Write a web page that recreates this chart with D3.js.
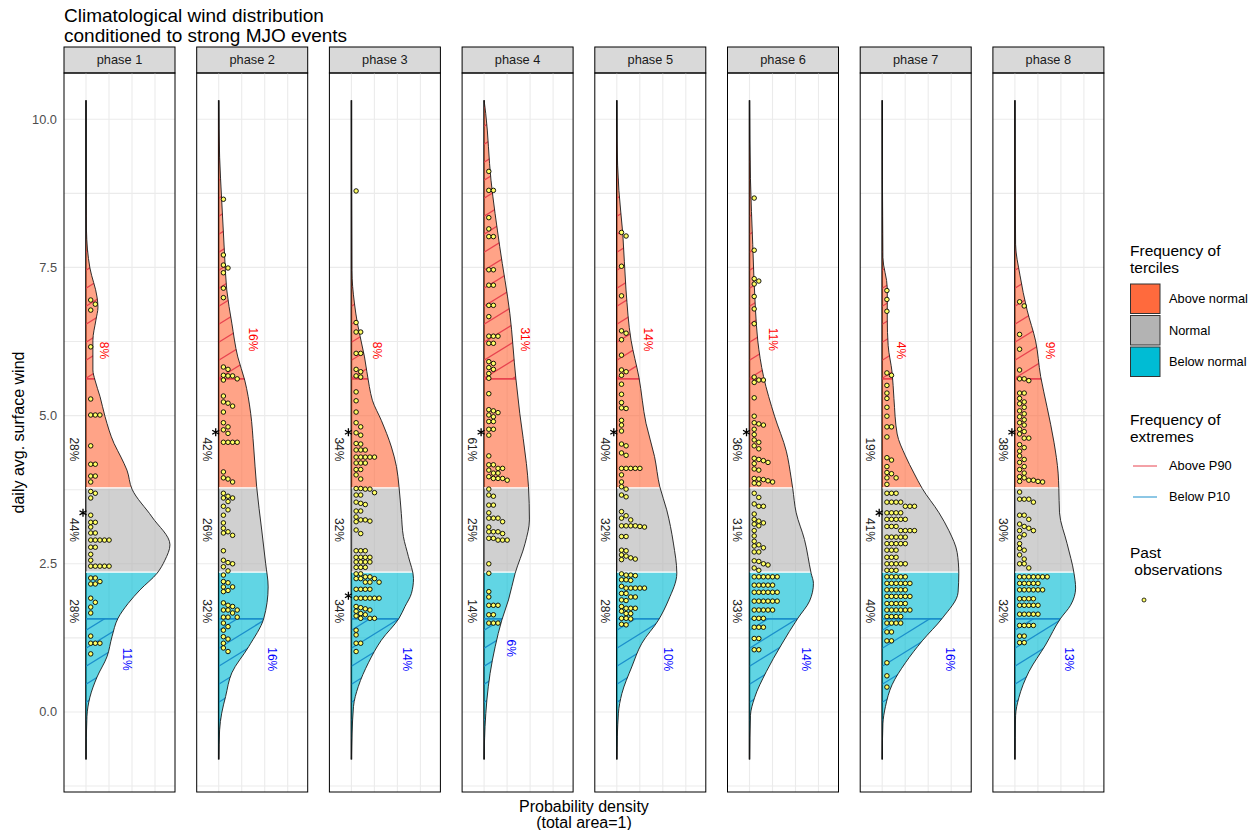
<!DOCTYPE html>
<html><head><meta charset="utf-8">
<script src="https://cdn.jsdelivr.net/npm/d3@7"></script>
<style>body{margin:0;background:#fff} svg{font-family:"Liberation Sans", Arial, sans-serif}</style>
</head><body><svg id="c" width="1258" height="830"></svg>
<script>
// ---------------- data ----------------
const phases = ["phase 1","phase 2","phase 3","phase 4","phase 5","phase 6","phase 7","phase 8"];
const yTicks = [0, 2.5, 5, 7.5, 10];
const yTickLabels = ["0.0","2.5","5.0","7.5","10.0"];
const tercileBreaks = [2.36, 3.78];      // below/normal, normal/above
const extremeBreaks = [1.57, 5.62];      // P10, P90
const tercileLabelAt = [4.43, 3.07, 1.70];
const windRange = [-0.8, 10.32];
const pctAbove  = ["28%","42%","34%","61%","40%","36%","19%","38%"];
const pctNormal = ["44%","26%","32%","25%","32%","31%","41%","30%"];
const pctBelow  = ["28%","32%","34%","14%","28%","33%","40%","32%"];
const pctP90 = ["8%","16%","8%","31%","14%","11%","4%","9%"];
const pctP10 = ["11%","16%","14%","6%","10%","14%","16%","13%"];
const stars = [[3.36],[4.72],[4.72,1.96],[4.72],[4.72],[4.72],[3.36],[4.72]];

// density curves [wind, density]
const dens1 = [[10.32,0],[9.0,0],[8.13,0.002],[7.49,0.017],[7.0,0.048],[6.83,0.052],[6.61,0.043],[6.27,0.030],[5.77,0.030],[5.6,0.039],[5.32,0.061],[4.98,0.083],[4.53,0.122],[4.3,0.152],[4.08,0.178],[3.76,0.200],[3.29,0.287],[2.82,0.365],[2.56,0.343],[2.34,0.309],[2.06,0.235],[1.83,0.183],[1.58,0.139],[1.27,0.113],[0.93,0.091],[0.59,0.048],[0.25,0.017],[-0.08,0.004],[-0.8,0]];
const dens2 = [[10.32,0],[9.36,0.004],[8.63,0.013],[7.68,0.026],[7.12,0.035],[6.56,0.057],[5.99,0.083],[5.6,0.113],[5.04,0.139],[4.47,0.152],[3.8,0.165],[3.07,0.187],[2.51,0.204],[2.11,0.215],[1.58,0.196],[1.1,0.130],[0.66,0.057],[0.26,0.030],[-0.02,0.013],[-0.3,0.004],[-0.8,0]];
const dens3 = [[10.32,0],[7.45,0.002],[6.9,0.013],[6.56,0.026],[5.99,0.057],[5.49,0.078],[5.26,0.091],[4.92,0.130],[4.47,0.174],[4.14,0.196],[3.8,0.207],[3.35,0.217],[2.96,0.226],[2.62,0.248],[2.25,0.270],[2.0,0.261],[1.78,0.233],[1.58,0.207],[1.21,0.130],[0.83,0.074],[0.43,0.030],[0.09,0.009],[-0.8,0]];
const dens4 = [[10.32,0],[10.1,0.007],[8.97,0.030],[7.85,0.068],[6.72,0.112],[5.63,0.138],[5.04,0.155],[4.19,0.184],[3.8,0.193],[3.24,0.197],[2.84,0.178],[2.34,0.135],[1.89,0.106],[1.55,0.077],[1.1,0.048],[0.65,0.026],[0.2,0.012],[-0.25,0.004],[-0.8,0]];
const dens5 = [[10.32,0],[9.65,0.001],[8.8,0.009],[8.07,0.026],[7.12,0.040],[6.27,0.062],[5.65,0.096],[4.87,0.127],[4.31,0.164],[3.8,0.187],[3.41,0.217],[2.85,0.246],[2.34,0.261],[1.89,0.225],[1.55,0.181],[1.16,0.109],[0.76,0.065],[0.31,0.022],[-0.02,0.007],[-0.8,0]];
const dens6 = [[10.32,0],[9.0,0.004],[7.89,0.014],[6.78,0.026],[6.26,0.036],[5.66,0.061],[4.99,0.109],[4.4,0.160],[3.95,0.181],[3.77,0.188],[3.36,0.203],[2.91,0.239],[2.34,0.268],[2.17,0.278],[1.87,0.261],[1.58,0.210],[1.13,0.138],[0.68,0.073],[0.24,0.022],[-0.06,0.004],[-0.8,0]];
const dens7 = [[10.32,0],[7.67,0.003],[7.15,0.022],[6.63,0.022],[6.18,0.026],[5.73,0.043],[5.29,0.051],[4.69,0.065],[4.32,0.101],[4.03,0.138],[3.77,0.174],[3.36,0.247],[3.06,0.290],[2.69,0.326],[2.34,0.333],[2.02,0.330],[1.58,0.261],[1.2,0.174],[0.83,0.101],[0.46,0.043],[0.09,0.014],[-0.2,0.003],[-0.8,0]];
const dens8 = [[10.32,0],[7.89,0.003],[7.37,0.022],[6.78,0.053],[6.26,0.090],[5.66,0.112],[5.14,0.140],[4.55,0.170],[4.03,0.188],[3.77,0.191],[3.36,0.194],[2.84,0.227],[2.34,0.257],[2.09,0.264],[1.8,0.242],[1.58,0.199],[1.13,0.133],[0.68,0.061],[0.24,0.017],[-0.06,0.003],[-0.8,0]];

// past observations (daily wind)
const obs1 = [6.95,6.88,6.78,6.16,5.28,5.01,5.01,5.01,4.49,4.18,4.18,3.98,3.98,3.88,
  3.72,3.69,3.61,3.32,3.20,3.20,3.12,3.02,3.02,2.90,2.90,2.90,2.90,2.90,2.78,2.78,2.66,2.56,2.46,2.46,2.46,2.46,2.46,
  2.26,2.26,2.20,2.16,2.16,1.92,1.85,1.77,1.67,1.28,1.16,1.16,1.16,0.98];
const obs2 = [8.65,7.71,7.54,7.49,7.41,7.15,6.99,5.82,5.78,5.68,5.67,5.67,5.62,5.60,5.33,5.23,5.21,5.16,5.06,4.88,4.81,4.76,4.70,4.55,4.55,4.55,4.55,4.05,3.95,3.93,3.88,
  3.69,3.64,3.61,3.61,3.55,3.47,3.41,3.32,3.19,3.10,3.04,3.02,2.98,2.72,2.56,2.52,2.50,2.45,2.38,
  2.31,2.20,2.18,2.11,2.11,2.05,2.03,1.84,1.80,1.78,1.72,1.72,1.72,1.67,1.60,1.60,1.60,1.50,1.44,1.38,1.27,1.23,1.16,1.08,1.02];
const obs3 = [8.79,6.57,6.41,6.41,6.05,6.05,5.78,5.74,5.67,5.65,5.40,5.25,5.06,4.88,4.81,4.71,4.67,4.53,4.52,4.42,4.42,4.42,4.30,4.30,4.30,4.30,4.30,4.20,4.20,4.20,4.09,4.09,4.00,3.93,
  3.77,3.77,3.76,3.76,3.70,3.66,3.66,3.54,3.52,3.50,3.39,3.39,3.29,3.24,3.24,3.22,3.21,3.07,3.01,2.72,2.72,2.72,2.61,2.61,2.61,2.61,2.53,2.53,2.53,2.53,2.44,2.44,2.44,
  2.33,2.33,2.28,2.28,2.25,2.25,2.25,2.19,2.19,2.19,2.07,2.07,2.07,2.07,1.92,1.92,1.92,1.92,1.92,1.92,1.78,1.76,1.74,1.72,1.70,1.66,1.64,1.62,1.58,1.58,1.58,1.38,1.30,1.16,1.16,1.02];
const obs4 = [9.12,8.80,8.80,8.34,8.15,8.02,8.02,7.46,7.46,7.20,7.20,6.86,6.86,6.67,6.34,6.34,6.34,6.22,6.22,5.91,5.88,5.81,5.78,5.71,5.63,5.37,5.10,5.08,5.05,5.01,4.98,4.90,4.90,4.77,4.77,4.67,4.32,4.17,4.17,4.11,4.11,4.08,4.03,4.03,3.97,3.94,3.94,3.94,3.91,
  3.76,3.66,3.64,3.49,3.49,3.36,3.27,3.27,3.27,3.21,3.12,3.04,3.04,3.04,3.01,2.93,2.93,2.90,2.90,2.90,2.50,2.34,
  2.03,1.94,1.80,1.80,1.80,1.64,1.64,1.50,1.50,1.50];
const obs5 = [8.09,8.03,7.52,7.02,6.43,6.39,6.28,6.02,5.77,5.74,5.68,5.53,5.36,5.22,5.13,5.12,4.92,4.84,4.74,4.52,4.49,4.37,4.33,4.11,4.11,4.11,4.11,4.11,4.00,3.88,3.80,
  3.76,3.66,3.63,3.38,3.31,3.27,3.24,3.14,3.14,3.14,3.14,3.13,3.12,2.96,2.96,2.73,2.72,2.65,2.63,2.60,2.58,2.57,
  2.33,2.31,2.31,2.30,2.23,2.23,2.22,2.12,2.09,2.09,2.09,2.09,2.09,2.00,2.00,1.94,1.94,1.89,1.88,1.78,1.75,1.75,1.75,1.70,1.66,1.66,1.58,1.58,1.57,1.48,1.47];
const obs6 = [8.67,7.79,7.31,7.27,7.22,7.01,6.80,6.55,5.65,5.60,5.60,5.56,5.30,4.99,4.88,4.86,4.84,4.77,4.68,4.59,4.55,4.49,4.44,4.28,4.26,4.24,4.21,4.19,4.10,4.08,3.94,3.93,3.92,3.90,3.88,3.86,3.85,
  3.69,3.62,3.51,3.47,3.47,3.34,3.25,3.22,3.19,3.17,3.14,3.06,2.97,2.88,2.82,2.80,2.77,2.70,2.70,2.55,2.54,2.50,2.48,2.43,2.39,
  2.28,2.28,2.28,2.28,2.28,2.28,2.14,2.14,2.14,2.14,2.14,2.02,2.02,2.02,2.02,2.02,2.02,1.87,1.87,1.87,1.87,1.87,1.87,1.72,1.72,1.72,1.72,1.72,1.58,1.58,1.58,1.43,1.43,1.43,1.24,1.24,1.05,1.05];
const obs7 = [7.11,6.96,6.76,5.72,5.68,5.51,5.38,5.29,5.14,4.99,4.81,4.81,4.64,4.29,4.25,4.14,4.04,4.02,3.95,3.95,3.84,
  3.69,3.69,3.69,3.54,3.54,3.54,3.54,3.47,3.47,3.47,3.36,3.36,3.36,3.36,3.25,3.25,3.25,3.25,3.25,3.13,3.13,3.13,3.06,3.06,3.06,3.06,2.95,2.95,2.95,2.95,2.95,2.84,2.84,2.84,2.84,2.84,2.73,2.73,2.73,2.61,2.61,2.61,2.50,2.50,2.50,2.50,2.50,2.39,2.39,2.39,
  2.28,2.28,2.28,2.28,2.28,2.17,2.17,2.17,2.17,2.17,2.17,2.06,2.06,2.06,2.06,2.06,1.95,1.95,1.95,1.95,1.95,1.95,1.83,1.83,1.83,1.83,1.83,1.72,1.72,1.72,1.72,1.72,1.72,1.61,1.61,1.61,1.61,1.50,1.50,1.50,1.50,1.35,1.35,1.20,1.20,0.83,0.61,0.42];
const obs8 = [6.92,6.85,6.37,6.12,5.77,5.62,5.62,5.59,5.38,5.38,5.29,5.23,5.20,5.14,5.08,5.03,4.98,4.93,4.88,4.84,4.77,4.73,4.69,4.62,4.62,4.51,4.46,4.40,4.32,4.26,4.21,4.14,4.09,4.03,3.97,3.95,3.91,3.91,3.89,3.89,3.88,
  3.71,3.59,3.59,3.59,3.54,3.32,3.32,3.25,3.17,3.13,3.10,3.06,3.06,2.99,2.95,2.84,2.76,2.73,2.65,2.58,2.50,2.50,2.43,
  2.28,2.28,2.28,2.28,2.28,2.28,2.28,2.17,2.17,2.17,2.17,2.17,2.06,2.06,2.06,2.06,2.06,2.06,1.91,1.91,1.91,1.91,1.80,1.80,1.80,1.80,1.80,1.65,1.65,1.65,1.65,1.65,1.46,1.46,1.46,1.46,1.28,1.28,1.17,1.17];

const densities = [dens1,dens2,dens3,dens4,dens5,dens6,dens7,dens8];
const observations = [obs1,obs2,obs3,obs4,obs5,obs6,obs7,obs8];
const tercileNames = ["Above normal","Normal","Below normal"];
const extremeNames = ["Above P90","Below P10"];

// ---------------- drawing ----------------
const svg = d3.select("#c");
const colAbove = "#FF6A3D", colNormal = "#B3B3B3", colBelow = "#00BCD4";
const fillOp = 0.62;
const redLine = "#E8434F", blueLine = "#1B8FCB";

const panelTop = 73, panelBottom = 792, stripH = 26;
const panelW = 111, panelStep = 132.7, panelLeft0 = 64;
const y = d3.scaleLinear().domain([-1.35, 10.78]).range([panelBottom, panelTop]);
const x = d3.scaleLinear().domain([-0.0957, 0.387]).range([0, panelW]);
const xGrid = [0, 0.1, 0.2, 0.3];
const yMinor = [-1.25, 1.25, 3.75, 6.25, 8.75];

const defs = svg.append("defs");

// title
svg.append("text").attr("x", 64).attr("y", 22).attr("font-size", 19).attr("fill", "#000")
  .text("Climatological wind distribution");
svg.append("text").attr("x", 64).attr("y", 42).attr("font-size", 19).attr("fill", "#000")
  .text("conditioned to strong MJO events");

// y axis labels
yTicks.forEach((t, i) => {
  svg.append("text").attr("x", 57).attr("y", y(t)).attr("dy", "0.35em").attr("text-anchor", "end")
    .attr("font-size", 12.8).attr("fill", "#4D4D4D").text(yTickLabels[i]);
});
svg.append("text").attr("transform", `translate(24,${(panelTop+panelBottom)/2}) rotate(-90)`)
  .attr("text-anchor", "middle").attr("font-size", 16).attr("fill", "#000").text("daily avg. surface wind");

// x axis title
const xMid = panelLeft0 + (7*panelStep + panelW)/2;
svg.append("text").attr("x", xMid).attr("y", 812).attr("text-anchor", "middle").attr("font-size", 16).text("Probability density");
svg.append("text").attr("x", xMid).attr("y", 828).attr("text-anchor", "middle").attr("font-size", 16).text("(total area=1)");

function densAt(dens, w) {
  const s = dens.slice().sort((a,b)=>a[0]-b[0]);
  for (let i = 0; i < s.length-1; i++) {
    if (w >= s[i][0] && w <= s[i+1][0]) {
      const t = (w - s[i][0])/(s[i+1][0]-s[i][0]);
      return s[i][1] + t*(s[i+1][1]-s[i][1]);
    }
  }
  return 0;
}

phases.forEach((ph, i) => {
  const px = panelLeft0 + i*panelStep;
  const g = svg.append("g").attr("transform", `translate(${px},0)`);
  const dens = densities[i].slice().sort((a,b)=>b[0]-a[0]);
  const x0 = x(0);

  // strip
  g.append("rect").attr("x", 0).attr("y", panelTop - stripH).attr("width", panelW).attr("height", stripH)
    .attr("fill", "#D9D9D9").attr("stroke", "#000").attr("stroke-width", 1);
  g.append("text").attr("x", panelW/2).attr("y", panelTop - stripH/2).attr("dy", "0.35em")
    .attr("text-anchor", "middle").attr("font-size", 12.8).attr("fill", "#1A1A1A").text(ph);

  // grid
  const grid = g.append("g").attr("stroke", "#EBEBEB").attr("stroke-width", 1.1);
  yTicks.concat(yMinor).forEach(t => grid.append("line").attr("x1", 0).attr("x2", panelW).attr("y1", y(t)).attr("y2", y(t)));
  xGrid.forEach(t => grid.append("line").attr("x1", x(t)).attr("x2", x(t)).attr("y1", panelTop).attr("y2", panelBottom));

  // baseline
  g.append("line").attr("x1", x0).attr("x2", x0).attr("y1", y(windRange[1])).attr("y2", y(windRange[0]))
    .attr("stroke", "#000").attr("stroke-width", 1.6);

  const area = d3.area().curve(d3.curveMonotoneY).y(d => y(d[0])).x0(x0).x1(d => x(d[1]));
  const line = d3.line().curve(d3.curveMonotoneY).y(d => y(d[0])).x(d => x(d[1]));
  const aid = "area" + i;
  defs.append("clipPath").attr("id", aid).append("path").attr("d", area(dens));

  // band clips
  const bands = [
    [windRange[1]+1, tercileBreaks[1], colAbove],
    [tercileBreaks[1], tercileBreaks[0], colNormal],
    [tercileBreaks[0], windRange[0]-1, colBelow]
  ];
  bands.forEach((b, k) => {
    const cid = `band${i}_${k}`;
    defs.append("clipPath").attr("id", cid).append("rect")
      .attr("x", -5).attr("width", panelW + 10).attr("y", y(b[0])).attr("height", y(b[1]) - y(b[0]));
    g.append("g").attr("clip-path", `url(#${cid})`).append("path").attr("d", area(dens))
      .attr("fill", b[2]).attr("fill-opacity", fillOp);
  });

  // extreme regions: hatch
  const ext = [
    [windRange[1]+1, extremeBreaks[1], redLine],
    [extremeBreaks[0], windRange[0]-1, blueLine]
  ];
  ext.forEach((b, k) => {
    const cid = `ext${i}_${k}`;
    defs.append("clipPath").attr("id", cid).append("rect")
      .attr("x", -5).attr("width", panelW + 10).attr("y", y(b[0])).attr("height", y(b[1]) - y(b[0]));
    const hg = g.append("g").attr("clip-path", `url(#${aid})`).append("g").attr("clip-path", `url(#${cid})`);
    const step = 18, slope = 0.62, L = 100;
    for (let yy = y(windRange[1]) - 10; yy < y(windRange[0]) + 80; yy += step) {
      hg.append("line").attr("x1", x0).attr("y1", yy).attr("x2", x0 + L).attr("y2", yy - L*slope)
        .attr("stroke", b[2]).attr("stroke-width", 1.3).attr("stroke-opacity", 1);
    }
  });

  const inside = g.append("g").attr("clip-path", `url(#${aid})`);
  tercileBreaks.forEach(t => inside.append("line").attr("x1", x0).attr("x2", panelW).attr("y1", y(t)).attr("y2", y(t))
    .attr("stroke", "#fff").attr("stroke-width", 1.2));
  inside.append("line").attr("x1", x0).attr("x2", panelW).attr("y1", y(extremeBreaks[1])).attr("y2", y(extremeBreaks[1]))
    .attr("stroke", redLine).attr("stroke-width", 1.8);
  inside.append("line").attr("x1", x0).attr("x2", panelW).attr("y1", y(extremeBreaks[0])).attr("y2", y(extremeBreaks[0]))
    .attr("stroke", blueLine).attr("stroke-width", 1.8);

  // outline
  g.append("path").attr("d", line(dens)).attr("fill", "none").attr("stroke", "#1A1A1A").attr("stroke-width", 0.9);

  // dots (swarm into columns)
  const vals = observations[i].slice().sort((a,b)=>b-a);
  const placed = [];
  vals.forEach(v => {
    const py = y(v);
    let k = 0;
    while (placed.some(p => p.k === k && Math.abs(p.py - py) < 4.4)) k++;
    placed.push({k, py});
  });
  g.append("g").selectAll("circle").data(placed).join("circle")
    .attr("cx", d => x0 + 4.7 + d.k*4.6).attr("cy", d => d.py).attr("r", 2.25)
    .attr("fill", "#FFFF66").attr("stroke", "#000").attr("stroke-width", 0.9);

  // stars
  stars[i].forEach(s => {
    g.append("path").attr("d", d3.symbol(d3.symbolAsterisk, 45)())
      .attr("transform", `translate(${x0-3},${y(s)})`).attr("fill", "none").attr("stroke", "#000").attr("stroke-width", 1.3);
  });

  // tercile labels
  [pctAbove[i], pctNormal[i], pctBelow[i]].forEach((t, k) => {
    g.append("text").attr("transform", `translate(${x0-12},${y(tercileLabelAt[k])}) rotate(90)`)
      .attr("text-anchor", "middle").attr("dy", "0.35em").attr("font-size", 12).attr("fill", "#222").text(t);
  });
  // extreme labels
  const rt = pctP90[i], bt = pctP10[i];
  g.append("text").attr("transform", `translate(${x(densAt(densities[i], extremeBreaks[1])) + 9},${y(6.1) - (rt.length-2)*11}) rotate(90)`)
    .attr("text-anchor", "middle").attr("dy", "0.35em").attr("font-size", 12).attr("fill", "#FF0000").text(rt);
  g.append("text").attr("transform", `translate(${x(densAt(densities[i], extremeBreaks[0])) + 9},${y(0.89) - (3-bt.length)*11}) rotate(90)`)
    .attr("text-anchor", "middle").attr("dy", "0.35em").attr("font-size", 12).attr("fill", "#0000FF").text(bt);

  // panel border
  g.append("rect").attr("x", 0).attr("y", panelTop).attr("width", panelW).attr("height", panelBottom - panelTop)
    .attr("fill", "none").attr("stroke", "#000").attr("stroke-width", 1);
});

// legend
const lg = svg.append("g").attr("transform", "translate(1130,0)");
lg.append("text").attr("x", 0).attr("y", 256).attr("font-size", 15.5).text("Frequency of");
lg.append("text").attr("x", 0).attr("y", 273).attr("font-size", 15.5).text("terciles");
[colAbove, colNormal, colBelow].forEach((c, k) => {
  lg.append("rect").attr("x", 0.5).attr("y", 284 + k*31.5).attr("width", 29.5).attr("height", 29.5)
    .attr("fill", c).attr("stroke", "#333").attr("stroke-width", 1);
  lg.append("text").attr("x", 39).attr("y", 299 + k*31.5).attr("dy", "0.35em").attr("font-size", 12.8).text(tercileNames[k]);
});
lg.append("text").attr("x", 0).attr("y", 425).attr("font-size", 15.5).text("Frequency of");
lg.append("text").attr("x", 0).attr("y", 442).attr("font-size", 15.5).text("extremes");
[redLine, blueLine].forEach((c, k) => {
  const yy = 466 + k*31;
  lg.append("line").attr("x1", 3).attr("x2", 27).attr("y1", yy).attr("y2", yy).attr("stroke", c).attr("stroke-width", 1);
  lg.append("text").attr("x", 39).attr("y", yy).attr("dy", "0.35em").attr("font-size", 12.8).text(extremeNames[k]);
});
lg.append("text").attr("x", 0).attr("y", 558).attr("font-size", 15.5).text("Past");
lg.append("text").attr("x", 0).attr("y", 575).attr("font-size", 15.5).attr("xml:space", "preserve").text(" observations");
lg.append("circle").attr("cx", 14).attr("cy", 600).attr("r", 2).attr("fill", "#FFFF66").attr("stroke", "#000").attr("stroke-width", 0.8);
</script></body></html>
